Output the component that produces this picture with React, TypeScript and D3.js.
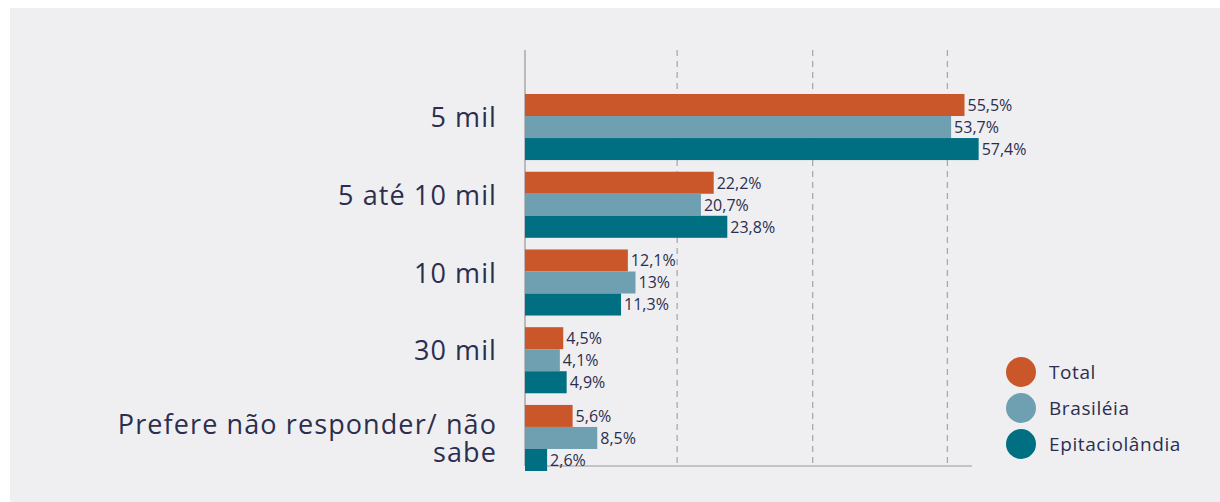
import React from "react";
import * as d3 from "d3";

const categories = ["5 mil", "5 até 10 mil", "10 mil", "30 mil", "Prefere não responder/ não|sabe"];
const seriesNames = ["Total", "Brasiléia", "Epitaciolândia"];
const totalValues = [55.5, 22.2, 12.1, 4.5, 5.6];
const brasileiaValues = [53.7, 20.7, 13, 4.1, 8.5];
const epitaValues = [57.4, 23.8, 11.3, 4.9, 2.6];
const gridValues = [17.9, 35.1, 53.2];
const axisEndValue = 56.5;

const colors = ["#c9572a", "#6fa0b2", "#006f82"];
const W = 1220;
const H = 502;
const textColor = "#2c2e4e";
const font = "'Open Sans', Lato, sans-serif";

export default function App() {
  const series = [totalValues, brasileiaValues, epitaValues];
  const x = d3.scaleLinear().domain([0, 25, 60]).range([525, 737.5, 998]);
  const y = d3.scaleBand<string>().domain(categories).range([94, 471]).paddingInner(0.15).paddingOuter(0);
  const ySub = d3.scaleBand<string>().domain(seriesNames).range([0, y.bandwidth()]).padding(0);
  const fmt = (v: number) => String(v).replace(".", ",") + "%";
  const axisTop = 50;
  const axisBottom = 466;

  return (
    <svg width={W} height={H} style={{ position: "absolute", left: 0, top: 0 }} fontFamily={font}>
      <rect x={0} y={0} width={W} height={H} fill="#ffffff" />
      <rect x={10} y={8} width={W - 10} height={H - 8} fill="#efeff2" />
      {gridValues.map((g) => (
        <line key={g} x1={x(g)} x2={x(g)} y1={axisTop} y2={axisBottom} stroke="#a9a9ad" strokeWidth={1.3} strokeDasharray="6,5" />
      ))}
      <line x1={x(0)} x2={x(axisEndValue)} y1={axisBottom} y2={axisBottom} stroke="#b4b4b8" strokeWidth={1.5} />
      <line x1={x(0)} x2={x(0)} y1={axisTop} y2={axisBottom} stroke="#a9a9ad" strokeWidth={1.5} />
      {categories.map((c, ci) => (
        <g key={c} transform={`translate(0,${y(c)})`}>
          {series.map((vals, si) => (
            <g key={si}>
              <rect x={x(0)} y={ySub(seriesNames[si])} width={x(vals[ci]) - x(0)} height={ySub.bandwidth()} fill={colors[si]} />
              <text
                x={x(vals[ci]) + 3}
                y={(ySub(seriesNames[si]) as number) + ySub.bandwidth() / 2}
                dy="0.36em"
                fontSize={16}
                fill={textColor}
              >
                {fmt(vals[ci])}
              </text>
            </g>
          ))}
        </g>
      ))}
      {categories.map((c) => {
        const lines = c.split("|");
        const cy = (y(c) as number) + y.bandwidth() / 2;
        const lh = 28;
        return (
          <text key={c} textAnchor="end" fontSize={27} letterSpacing={1.1} fill={textColor}>
            {lines.map((l, i) => (
              <tspan key={i} x={497} y={cy + (i - (lines.length - 1) * 0.15) * lh}>
                {l}
              </tspan>
            ))}
          </text>
        );
      })}
      {seriesNames.map((s, i) => (
        <g key={s} transform={`translate(1021,${372 + i * 36})`}>
          <circle r={15} fill={colors[i]} />
          <text x={28} dy="0.35em" fontSize={19} letterSpacing={0.6} fill={textColor}>
            {s}
          </text>
        </g>
      ))}
    </svg>
  );
}
